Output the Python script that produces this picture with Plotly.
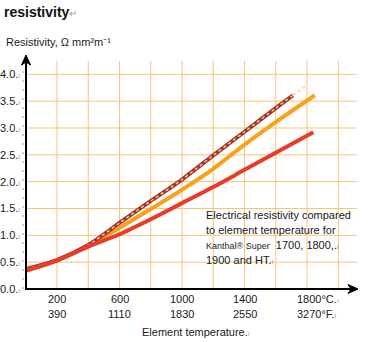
import plotly.graph_objects as go

# ---- data ----
temp_c = [0, 200, 400, 600, 800, 1000, 1200, 1400, 1600]
ks1700_t = temp_c + [1710]
ks1700 = [0.37, 0.54, 0.82, 1.23, 1.64, 2.04, 2.49, 2.93, 3.37, 3.61]
ks1700_ext_t = [1710, 1800]
ks1700_ext = [3.61, 3.80]
ks1800_t = temp_c + [1850]
ks1800 = [0.37, 0.54, 0.81, 1.14, 1.49, 1.85, 2.24, 2.69, 3.11, 3.61]
ksht_t = temp_c + [1840]
ksht = [0.34, 0.53, 0.79, 1.02, 1.30, 1.60, 1.90, 2.22, 2.54, 2.92]

x_ticks_c = [200, 600, 1000, 1400, 1800]
x_labels_c = ["200", "600", "1000", "1400", "1800°C"]
x_labels_f = ["390", "1110", "1830", "2550", "3270°F"]
y_ticks = [0.0, 0.5, 1.0, 1.5, 2.0, 2.5, 3.0, 3.5, 4.0]
x_grid = [200, 400, 600, 800, 1000, 1200, 1400, 1600, 1800, 2000]

W, H = 381, 342
X0, X1 = 0, 2120
Y0, Y1 = 0, 4.36
FONT = "Liberation Sans, Arial, sans-serif"
GRID = "#fbc27a"
MARK = "<span style='font-size:7px;color:#9a9a9a'>ı</span>"

def px(xp):
    return xp / W

def py(yp):
    return 1 - yp / H

fig = go.Figure()

def add_line(xs, ys, color, width, dash=None):
    fig.add_trace(go.Scatter(x=xs, y=ys, mode="lines",
                             line=dict(color=color, width=width, dash=dash,
                                       shape="spline", smoothing=0.8),
                             hoverinfo="skip"))

add_line(ks1800_t, ks1800, "#f9a11b", 4)
add_line(ks1700_ext_t, ks1700_ext, "#f7dc9c", 2, "3px,3px")
add_line(ks1700_t, ks1700, "#a3352b", 4)
add_line(ks1700_t, ks1700, "#f3c98a", 1.5, "3px,3px")
add_line(ksht_t, ksht, "#ea3a2a", 4)

shapes = []
for g in x_grid:
    shapes.append(dict(type="line", xref="x", yref="y", x0=g, x1=g, y0=0, y1=4.25,
                       line=dict(color=GRID, width=1), layer="below"))
for t in y_ticks[1:]:
    shapes.append(dict(type="line", xref="x", yref="y", x0=0, x1=X1, y0=t, y1=t,
                       line=dict(color=GRID, width=1), layer="below"))
# white text box covering the grid
shapes.append(dict(type="rect", xref="paper", yref="paper",
                   x0=px(197), x1=px(381), y0=py(268), y1=py(207),
                   fillcolor="white", line=dict(width=0), layer="below"))
# dotted mark line left of axis
shapes.append(dict(type="line", xref="paper", yref="paper",
                   x0=px(23), x1=px(23), y0=py(289), y1=py(60),
                   line=dict(color="#9a9a9a", width=1, dash="2px,7px")))
# axes
shapes.append(dict(type="line", xref="paper", yref="paper",
                   x0=px(26), x1=px(26), y0=py(290), y1=py(60),
                   line=dict(color="black", width=2)))
shapes.append(dict(type="line", xref="paper", yref="paper",
                   x0=px(25), x1=px(352), y0=py(289), y1=py(289),
                   line=dict(color="black", width=2)))
# arrowheads
tx, ty = 26, 55
shapes.append(dict(type="path", xref="paper", yref="paper",
                   path=f"M {px(tx)} {py(ty)} L {px(tx-4.5)} {py(ty+10)} L {px(tx)} {py(ty+7)} L {px(tx+4.5)} {py(ty+10)} Z",
                   fillcolor="black", line=dict(color="black", width=1)))
tx, ty = 358, 289
shapes.append(dict(type="path", xref="paper", yref="paper",
                   path=f"M {px(tx)} {py(ty)} L {px(tx-10)} {py(ty-4.5)} L {px(tx-7)} {py(ty)} L {px(tx-10)} {py(ty+4.5)} Z",
                   fillcolor="black", line=dict(color="black", width=1)))

ann = []
# y tick labels
for t in y_ticks:
    ann.append(dict(x=px(22), y=py(289 - t * 53.67), xref="paper", yref="paper",
                    xanchor="right", yanchor="middle", showarrow=False,
                    text=f"{t:.1f}." + MARK,
                    font=dict(family=FONT, size=11, color="#1a1a1a")))
# x tick labels (two rows)
for xv, lc, lf in zip(x_ticks_c, x_labels_c, x_labels_f):
    if lc.endswith("C"):
        ann.append(dict(x=xv, y=py(299), xref="x", yref="paper", xanchor="left",
                        yanchor="middle", xshift=-12, showarrow=False, text=lc + "." + MARK,
                        font=dict(family=FONT, size=11, color="#1a1a1a")))
        ann.append(dict(x=xv, y=py(314), xref="x", yref="paper", xanchor="left",
                        yanchor="middle", xshift=-12, showarrow=False, text=lf + "." + MARK,
                        font=dict(family=FONT, size=11, color="#1a1a1a")))
    else:
        ann.append(dict(x=xv, y=py(299), xref="x", yref="paper", xanchor="center",
                        yanchor="middle", showarrow=False, text=lc,
                        font=dict(family=FONT, size=11, color="#1a1a1a")))
        ann.append(dict(x=xv, y=py(314), xref="x", yref="paper", xanchor="center",
                        yanchor="middle", showarrow=False, text=lf,
                        font=dict(family=FONT, size=11, color="#1a1a1a")))
# x axis title
ann.append(dict(x=px(140), y=py(332), xref="paper", yref="paper", xanchor="left",
                yanchor="middle", showarrow=False, text="Element temperature." + MARK,
                font=dict(family=FONT, size=11, color="#1a1a1a")))
# y axis title
ann.append(dict(x=px(4), y=py(42), xref="paper", yref="paper", xanchor="left",
                yanchor="middle", showarrow=False,
                text="Resistivity, Ω mm²m⁻¹",
                font=dict(family=FONT, size=11, color="#1a1a1a")))
# chart title
ann.append(dict(x=px(2), y=py(12), xref="paper", yref="paper", xanchor="left",
                yanchor="middle", showarrow=False,
                text="<b>resistivity</b><span style='font-size:10px;color:#9a9a9a'>↵</span>",
                font=dict(family=FONT, size=14, color="#111111")))
# description text
desc = [
    "Electrical resistivity compared",
    "to element temperature for",
    "<span style='font-size:9px'>Kanthal® Super</span>  1700, 1800,." + MARK,
    "1900 and HT." + MARK,
]
for i, line in enumerate(desc):
    ann.append(dict(x=px(204), y=py(215 + 15 * i), xref="paper", yref="paper",
                    xanchor="left", yanchor="middle", showarrow=False, text=line,
                    font=dict(family=FONT, size=11, color="#1a1a1a")))

fig.update_layout(
    width=W, height=H,
    margin=dict(l=0, r=0, t=0, b=0),
    paper_bgcolor="white", plot_bgcolor="white",
    showlegend=False,
    xaxis=dict(domain=[px(25.75), px(357)], range=[X0, X1], showgrid=False,
               zeroline=False, showticklabels=False, showline=False, fixedrange=True),
    yaxis=dict(domain=[py(289), py(55)], range=[Y0, Y1], showgrid=False,
               zeroline=False, showticklabels=False, showline=False, fixedrange=True),
    shapes=shapes,
    annotations=ann,
)

fig.write_html("out.html")
